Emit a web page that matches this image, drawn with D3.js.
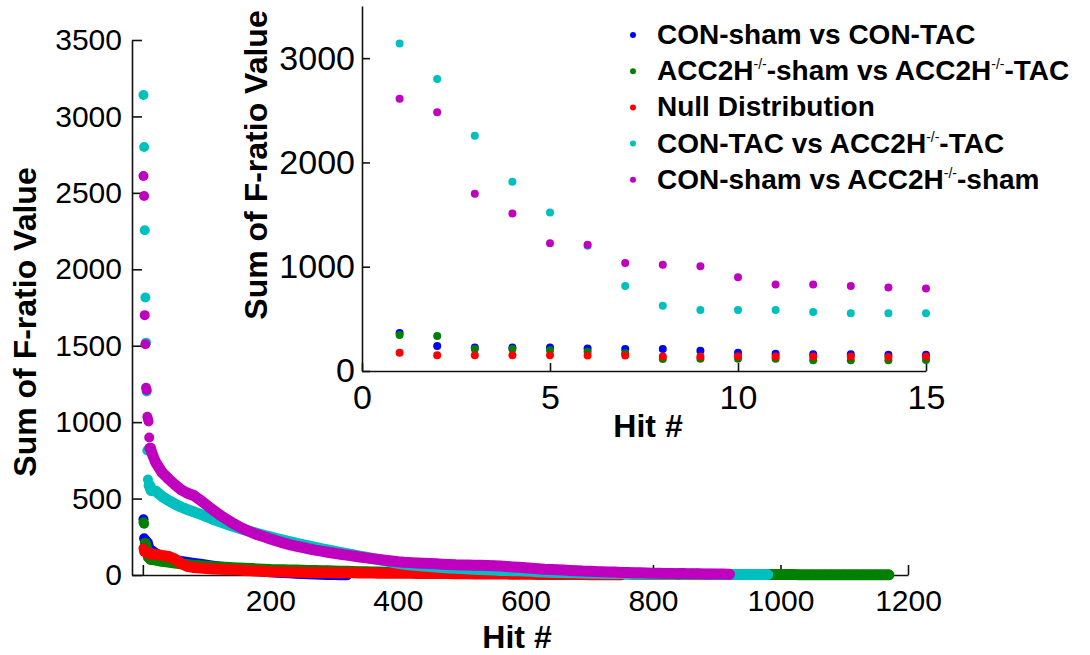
<!DOCTYPE html>
<html>
<head>
<meta charset="utf-8">
<script src="https://cdn.jsdelivr.net/npm/d3@7"></script>
<style>
  body { margin: 0; background: #fff; }
  text { font-family: "Liberation Sans", Arial, sans-serif; fill: #000; }
  .domain, .tick line { stroke: #111; stroke-width: 1.6; }
</style>
</head>
<body>
<script>
const width = 1090, height = 655;

// hit numbers (1..15 one by one, then every 10th hit)
const hits = [1,2,3,4,5,6,7,8,9,10,11,12,13,14,15,
  20,30,40,50,60,70,80,90,100,
  110,120,130,140,150,160,170,180,190,200,
  210,220,230,240,250,260,270,280,290,300,
  310,320,330,340,350,360,370,380,390,400,
  410,420,430,440,450,460,470,480,490,500,
  510,520,530,540,550,560,570,580,590,600,
  610,620,630,640,650,660,670,680,690,700,
  710,720,730,740,750,760,770,780,790,800,
  810,820,830,840,850,860,870,880,890,900,
  910,920,930,940,950,960,970,980,990,1000,
  1010,1020,1030,1040,1050,1060,1070,1080,1090,1100,
  1110,1120,1130,1140,1150,1160,1170];

// sum of F-ratio values, one per hit above (each series is as long as its hit list)
const conShamVsConTac = [365,240,225,225,225,215,212,210,195,175,165,160,160,155,155,
  140,120,105,95,88,82,76,70,64,
  58,52,47,42,38,34,30,27,24,21,
  18,16,14,12,10,8,6,5,4,3,
  2,1];

const accShamVsAccTac = [345,335,210,210,200,185,170,115,118,118,118,102,102,102,105,
  98,90,84,78,73,68,64,60,57,
  54,52,50,48,46,44,42,40,38,36,
  35,34,33,32,31,30,29,28,27,26,
  25,24,23,22,21,20,19,18,17,17,
  16,16,15,15,14,14,13,13,12,12,
  12,11,11,11,10,10,10,9,9,9,
  9,8,8,8,8,7,7,7,7,7,
  6,6,6,6,6,6,5,5,5,5,
  5,5,5,4,4,4,4,4,4,4,
  4,4,3,3,3,3,3,3,3,3,
  3,3,2,2,2,2,2,2,2,2,
  2,2,1,1,1,1,1];

const nullDistribution = [175,152,150,150,150,148,148,140,140,142,140,138,138,135,138,
  135,128,122,105,75,56,49,45,42,
  40,38,36,34,32,30,28,26,24,22,
  21,20,19,18,18,17,17,16,16,15,
  15,14,14,13,13,13,12,12,12,11,
  11,11,10,10,10,9,9,9,8,8,
  8,7,7,7,6,6,6,5,5,5,
  5,4,4,4,4,3,3,3,3,2,
  2,2,2,1,1];

const conTacVsAccTac = [3140,2800,2255,1815,1520,1200,815,625,585,585,585,565,553,553,553,
  550,515,488,465,445,428,413,398,382,
  365,350,335,320,307,295,283,271,260,249,
  238,228,218,208,199,190,181,172,164,156,
  148,140,132,124,116,108,100,92,84,76,
  70,66,62,58,55,52,49,46,44,42,
  40,38,36,34,32,30,29,28,27,26,
  24,22,20,18,17,16,15,14,13,12,
  11,10,10,9,9,8,8,7,7,7,
  6,6,6,6,5,5,5,5,5,4,
  4,4,4,4,3,3,3,3];

const conShamVsAccSham = [2610,2480,1700,1510,1225,1210,1035,1020,1005,900,830,830,815,800,790,
  738,672,630,592,558,535,520,490,458,
  425,395,368,342,318,298,280,263,250,236,
  222,210,199,189,180,171,163,156,149,142,
  136,130,124,118,112,107,102,97,92,87,
  83,81,79,77,75,73,71,69,67,66,
  65,64,63,62,61,59,56,53,50,47,
  44,41,38,36,34,32,30,28,26,25,
  23,22,20,19,17,16,15,14,13,12,
  11,10,10,9,9,8,8,7,7,6,
  6,5];

const colors = ["#0000ff", "#008000", "#ff0000", "#00bfbf", "#bf00bf"];

// legend labels as [text, superscript?] pieces
const legendLabels = [
  [["CON-sham vs CON-TAC", false]],
  [["ACC2H", false], ["-/-", true], ["-sham vs ACC2H", false], ["-/-", true], ["-TAC", false]],
  [["Null Distribution", false]],
  [["CON-TAC vs ACC2H", false], ["-/-", true], ["-TAC", false]],
  [["CON-sham vs ACC2H", false], ["-/-", true], ["-sham", false]]
];

const mainXTicks = [0, 200, 400, 600, 800, 1000, 1200];
const mainYTicks = [0, 500, 1000, 1500, 2000, 2500, 3000, 3500];
const insetXTicks = [0, 5, 10, 15];
const insetYTicks = [0, 1000, 2000, 3000];

const series = [conShamVsConTac, accShamVsAccTac, nullDistribution, conTacVsAccTac, conShamVsAccSham]
  .map((values, i) => ({
    points: values.map((v, j) => ({hit: hits[j], value: v})),
    color: colors[i],
    label: legendLabels[i]
  }));

const svg = d3.select("body").append("svg")
  .attr("width", width).attr("height", height);

// ---- main plot
const x = d3.scaleLinear().domain([-17, 1200]).range([132, 908]);
const y = d3.scaleLinear().domain([0, 3500]).range([575, 40]);

svg.append("g")
  .attr("transform", "translate(0,575)")
  .call(d3.axisBottom(x).tickValues(mainXTicks).tickFormat(d => d === 0 ? "" : String(d))
    .tickSizeInner(-10).tickSizeOuter(0).tickPadding(15))
  .call(g => g.selectAll("text").attr("font-size", 30).attr("font-family", null));

svg.append("g")
  .attr("transform", "translate(132,0)")
  .call(d3.axisLeft(y).tickValues(mainYTicks).tickFormat(d3.format("d"))
    .tickSizeInner(-10).tickSizeOuter(0).tickPadding(10))
  .call(g => g.selectAll("text").attr("font-size", 30).attr("font-family", null));

// the hits are so dense that the dots merge into a band: draw that band as a thick line too
const band = d3.line().x(d => x(d.hit)).y(d => y(d.value));

series.forEach(s => {
  const g = svg.append("g");
  g.append("path")
    .datum(s.points.filter(d => d.hit >= 11))
    .attr("d", band)
    .attr("fill", "none")
    .attr("stroke", s.color)
    .attr("stroke-width", 11)
    .attr("stroke-linecap", "round")
    .attr("stroke-linejoin", "round");
  g.selectAll("circle")
    .data(s.points)
    .join("circle")
    .attr("cx", d => x(d.hit))
    .attr("cy", d => y(d.value))
    .attr("r", 5)
    .attr("fill", s.color);
});

svg.append("text")
  .attr("x", 517).attr("y", 648)
  .attr("text-anchor", "middle")
  .attr("font-size", 32).attr("font-weight", "bold")
  .text("Hit #");

svg.append("text")
  .attr("transform", "translate(36,322) rotate(-90)")
  .attr("text-anchor", "middle")
  .attr("font-size", 32).attr("font-weight", "bold")
  .text("Sum of F-ratio Value");

// ---- inset
const inset = svg.append("g");
inset.append("rect").attr("x", 238).attr("y", 0).attr("width", 710).attr("height", 452).attr("fill", "#fff");

const ix = d3.scaleLinear().domain([0, 15]).range([362, 926]);
const iy = d3.scaleLinear().domain([0, 3500]).range([371, 6]);

inset.append("g")
  .attr("transform", "translate(0,371)")
  .call(d3.axisBottom(ix).tickValues(insetXTicks).tickFormat(d3.format("d"))
    .tickSizeInner(-8).tickSizeOuter(0).tickPadding(14))
  .call(g => g.selectAll("text").attr("font-size", 34).attr("font-family", null));

inset.append("g")
  .attr("transform", "translate(362,0)")
  .call(d3.axisLeft(iy).tickValues(insetYTicks).tickFormat(d3.format("d"))
    .tickSizeInner(-8).tickSizeOuter(0).tickPadding(7))
  .call(g => g.selectAll("text").attr("font-size", 34).attr("font-family", null));

series.forEach(s => {
  inset.append("g").selectAll("circle")
    .data(s.points.filter(d => d.hit <= 15))
    .join("circle")
    .attr("cx", d => ix(d.hit))
    .attr("cy", d => iy(d.value))
    .attr("r", 4)
    .attr("fill", s.color);
});

inset.append("text")
  .attr("x", 648).attr("y", 437)
  .attr("text-anchor", "middle")
  .attr("font-size", 32).attr("font-weight", "bold")
  .text("Hit #");

inset.append("text")
  .attr("transform", "translate(267,165) rotate(-90)")
  .attr("text-anchor", "middle")
  .attr("font-size", 32).attr("font-weight", "bold")
  .text("Sum of F-ratio Value");

// ---- legend
const legend = svg.append("g").selectAll("g")
  .data(series)
  .join("g")
  .attr("transform", (d, i) => `translate(633,${35 + i * 36.2})`);

legend.append("circle").attr("r", 3).attr("fill", d => d.color);

legend.append("text")
  .attr("x", 24).attr("y", 9)
  .attr("font-size", 28).attr("font-weight", "bold")
  .each(function (d) {
    const t = d3.select(this);
    let raised = false;
    d.label.forEach(([txt, sup]) => {
      const dy = sup ? (raised ? 0 : -11) : (raised ? 11 : 0);
      raised = sup;
      t.append("tspan")
        .attr("font-size", sup ? 14 : 28)
        .attr("font-weight", sup ? "normal" : "bold")
        .attr("dy", dy)
        .text(txt);
    });
  });
</script>
</body>
</html>
